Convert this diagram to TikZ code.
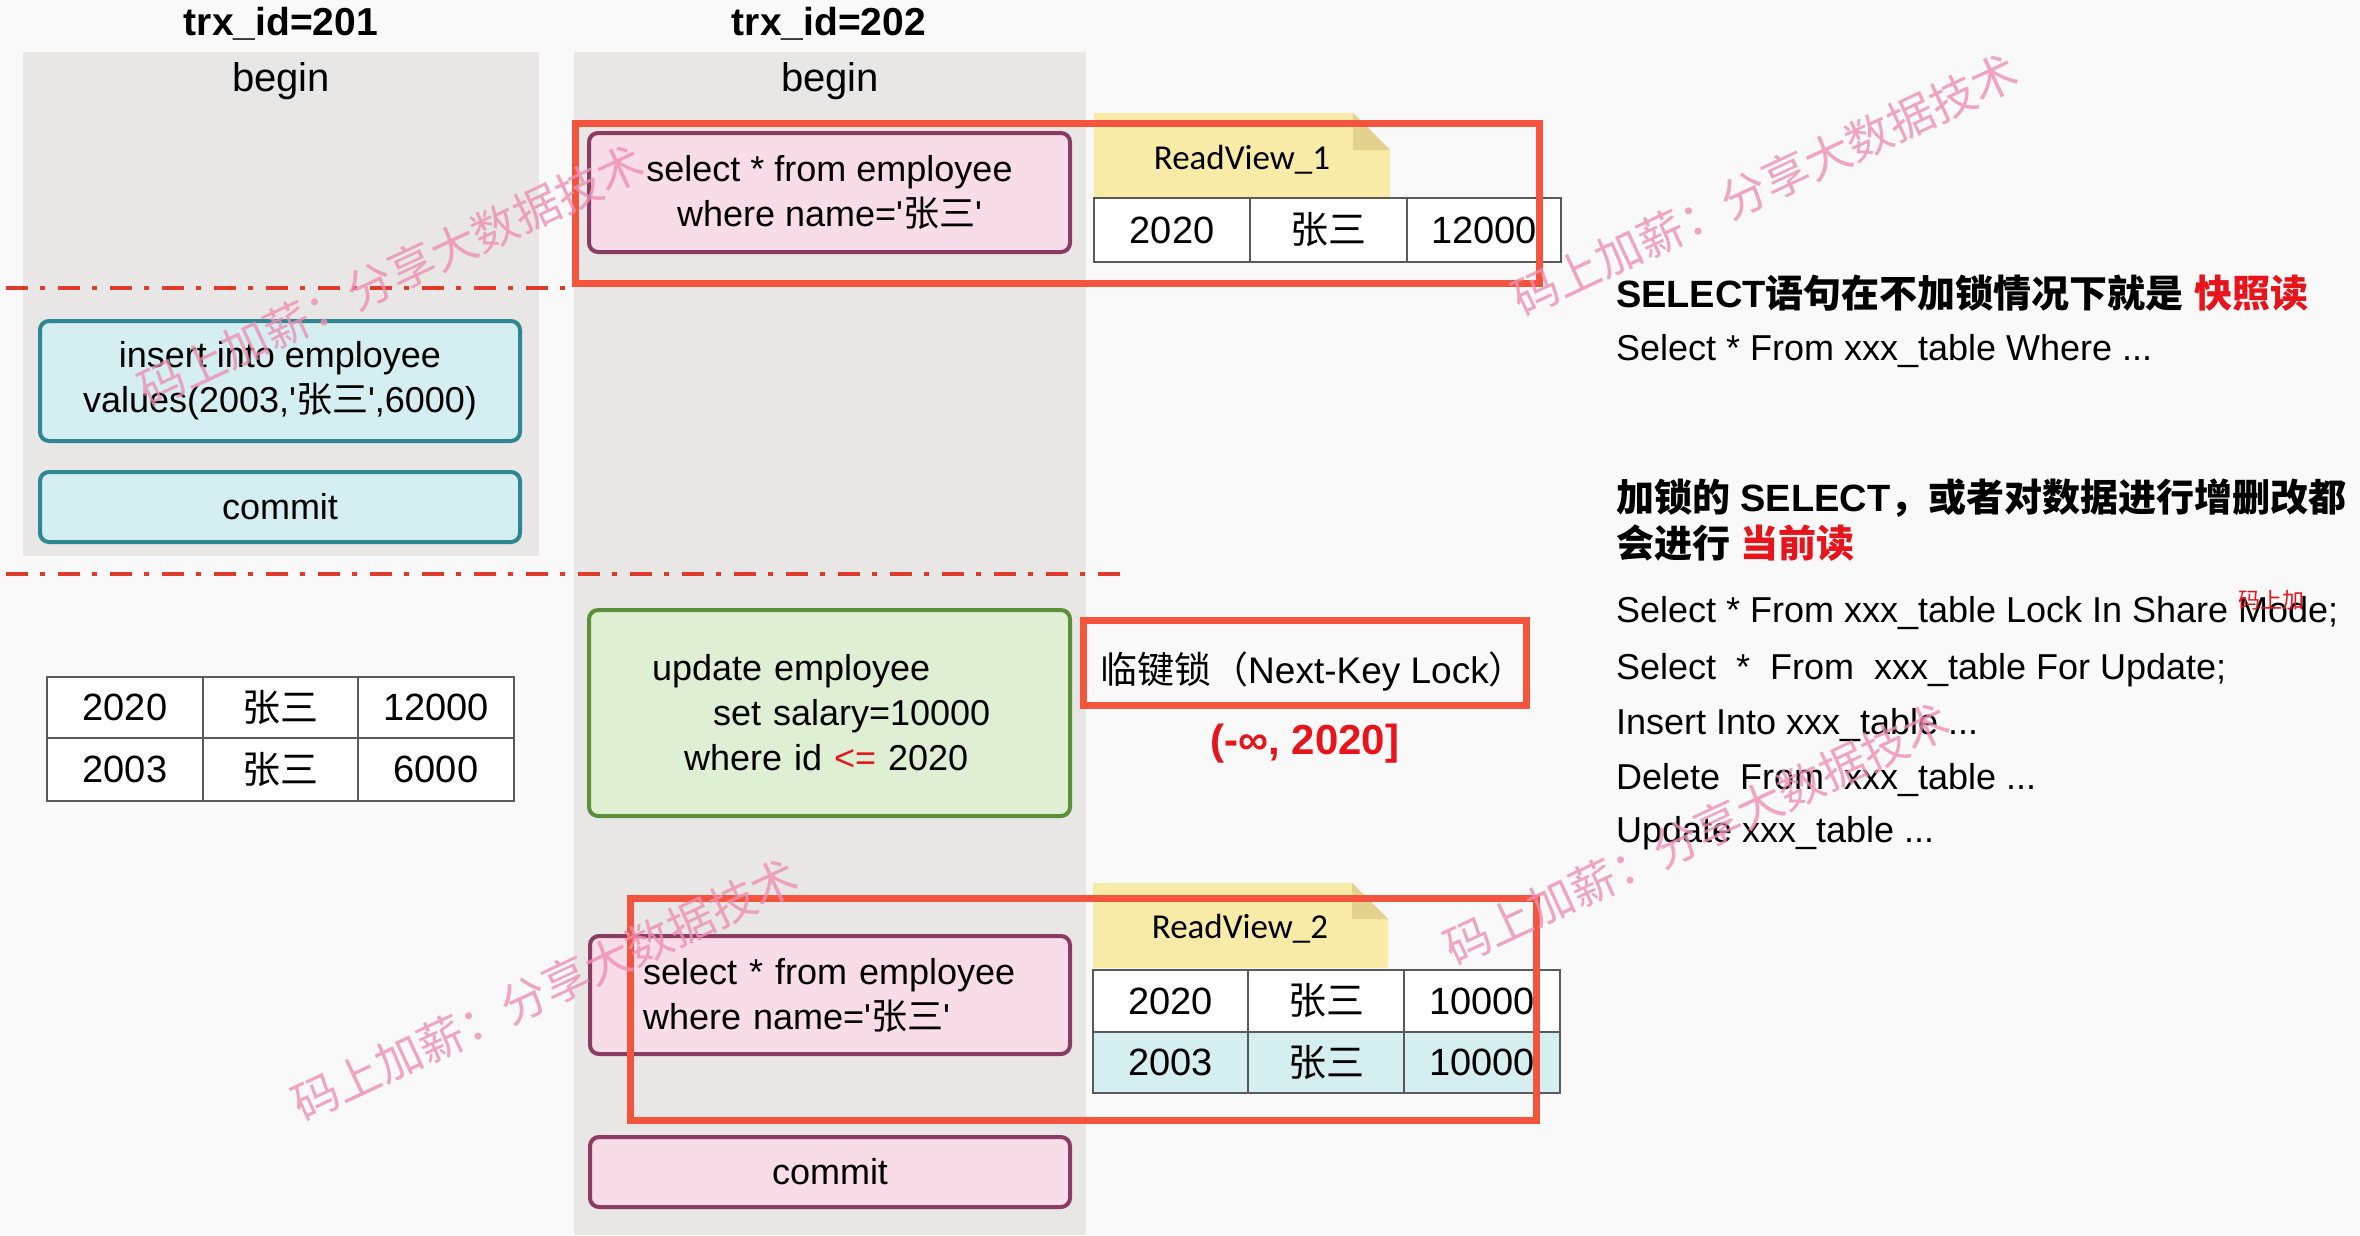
\documentclass[tikz,border=0pt]{standalone}
\usepackage{fontspec}
\setmainfont{Liberation Sans}
\newfontfamily\cjk{Noto Sans CJK SC}
\newfontfamily\rvfont{Carlito}
\newcommand\sq{\textquotesingle}
\newcommand\zs{{\cjk 张三}}
\definecolor{bg}{HTML}{F9F9F9}
\definecolor{colgray}{HTML}{E8E7E5}
\definecolor{pinkfill}{HTML}{F8DCE7}
\definecolor{pinkline}{HTML}{8A3C62}
\definecolor{cyanfill}{HTML}{D5EEF1}
\definecolor{cyanline}{HTML}{2E8790}
\definecolor{greenfill}{HTML}{DEEFD4}
\definecolor{greenline}{HTML}{5B8F3A}
\definecolor{boxred}{HTML}{F4533E}
\definecolor{dashred}{HTML}{DE3B2C}
\definecolor{tabyellow}{HTML}{F8EBA8}
\definecolor{tabfold}{HTML}{E3D18E}
\definecolor{txtred}{HTML}{E8141B}
\definecolor{wmpink}{HTML}{EE8FB2}
\definecolor{tline}{HTML}{5A5A5A}
\definecolor{rowcyan}{HTML}{D5EEF0}
\begin{document}
\begin{tikzpicture}[x=1pt,y=-1pt,
  every node/.style={inner sep=0pt, outer sep=0pt},
  body/.style={font=\fontsize{36}{45}\selectfont},
  title/.style={font=\bfseries\fontsize{39}{39}\selectfont, anchor=base},
  colbg/.style={fill=colgray},
  roundbox/.style={rounded corners=9pt, line width=4pt, body, align=center},
  pinkbox/.style={roundbox, draw=pinkline, fill=pinkfill},
  cyanbox/.style={roundbox, draw=cyanline, fill=cyanfill},
  greenbox/.style={roundbox, draw=greenline, fill=greenfill},
  cell/.style={draw=tline, line width=2pt, fill=white, font=\fontsize{38}{38}\selectfont},
  redframe/.style={draw=boxred, line width=7pt},
  dashdot/.style={draw=dashred, line width=4pt, dash pattern=on 22pt off 12pt on 5pt off 13pt},
  tab/.style={fill=tabyellow},
  fold/.style={fill=tabfold},
  rvtext/.style={font=\rvfont\fontsize{35}{35}\selectfont},
  rtext/.style={anchor=base west, font=\fontsize{36}{36}\selectfont},
  rhead/.style={anchor=base west, font=\bfseries\fontsize{38}{38}\selectfont},
  wm/.style={font=\cjk\fontsize{46}{46}\selectfont, text=wmpink, opacity=0.8, rotate=25}
]
\useasboundingbox (0,0) rectangle (2360,1235);
\fill[bg] (0,0) rectangle (2360,1235);

% column backgrounds
\fill[colbg] (23,52) rectangle (539,556);
\fill[colbg] (574,52) rectangle (1086,1235);

% titles
\node[title] (t201) at (281,35) {trx\_id=201};
\node[title] (t202) at (829,35) {trx\_id=202};
\node[font=\fontsize{40}{40}\selectfont, anchor=base] (b201) at (281,91) {begin};
\node[font=\fontsize{40}{40}\selectfont, anchor=base] (b202) at (830,91) {begin};

% dashed separators
\coordinate (d1a) at (6,288);
\coordinate (d1b) at (572,288);
\coordinate (d2a) at (6,574);
\coordinate (d2b) at (1130,574);
\draw[dashdot] (d1a) -- (d1b);
\draw[dashdot] (d2a) -- (d2b);

% trx 201 boxes
\node[cyanbox, minimum width=480, minimum height=120] (ins) at (280,381)
  {insert into employee\\values(2003,\sq\zs\sq,6000)};
\node[cyanbox, minimum width=480, minimum height=70] (com1) at (280,507) {commit};

% left table
\node[cell, minimum width=156, minimum height=61] (l11) at (125,707.5) {2020};
\node[cell, minimum width=155, minimum height=61] (l12) at (280.5,707.5) {\zs};
\node[cell, minimum width=156, minimum height=61] (l13) at (436,707.5) {12000};
\node[cell, minimum width=156, minimum height=63] (l21) at (125,769.5) {2003};
\node[cell, minimum width=155, minimum height=63] (l22) at (280.5,769.5) {\zs};
\node[cell, minimum width=156, minimum height=63] (l23) at (436,769.5) {6000};

% trx 202 boxes
\node[pinkbox, minimum width=481, minimum height=119] (sel1) at (829.5,192.5)
  {select * from employee\\where name=\sq\zs\sq};
\node[greenbox, minimum width=481, minimum height=206, text width=355, inner xsep=63, align=left] (upd) at (829.5,713)
  {update employee\\\hspace*{61pt}set salary=10000\\\hspace*{32pt}where id {\color{txtred}<=} 2020};
\node[pinkbox, minimum width=480, minimum height=118, text width=374, inner xsep=53, align=left] (sel2) at (830,995)
  {select * from employee\\where name=\sq\zs\sq};
\node[pinkbox, minimum width=480, minimum height=70] (com2) at (830,1172) {commit};

% ReadView_1
\fill[tab] (1094,113) -- (1353,113) -- (1390,150) -- (1390,198) -- (1094,198) -- cycle;
\fill[fold] (1353,113) -- (1390,150) -- (1353,150) -- cycle;
\node[rvtext] (rv1) at (1242,160) {ReadView\_1};
\node[cell, minimum width=156, minimum height=64] (a1) at (1172,230) {2020};
\node[cell, minimum width=157, minimum height=64] (a2) at (1328.5,230) {\zs};
\node[cell, minimum width=154, minimum height=64] (a3) at (1484,230) {12000};

% ReadView_2
\fill[tab] (1093,883) -- (1352,883) -- (1388,919) -- (1388,968) -- (1093,968) -- cycle;
\fill[fold] (1352,883) -- (1388,919) -- (1352,919) -- cycle;
\node[rvtext] (rv2) at (1240,929) {ReadView\_2};
\node[cell, minimum width=155, minimum height=62] (c11) at (1170.5,1001) {2020};
\node[cell, minimum width=156, minimum height=62] (c12) at (1326,1001) {\zs};
\node[cell, minimum width=156, minimum height=62] (c13) at (1482,1001) {10000};
\node[cell, fill=rowcyan, minimum width=155, minimum height=61] (c21) at (1170.5,1062.5) {2003};
\node[cell, fill=rowcyan, minimum width=156, minimum height=61] (c22) at (1326,1062.5) {\zs};
\node[cell, fill=rowcyan, minimum width=156, minimum height=61] (c23) at (1482,1062.5) {10000};

% next-key lock
\node[font=\fontsize{37}{37}\selectfont, anchor=base] (nkl) at (1313,683) {{\cjk 临键锁（}Next-Key Lock{\cjk ）}};
\node[anchor=base, font=\bfseries\fontsize{42}{42}\selectfont, text=txtred] (rng) at (1305,754) {(-∞, 2020]};

% red highlight frames
\draw[redframe] (575,123) rectangle (1539,283);
\draw[redframe] (630,898) rectangle (1536,1120);
\draw[redframe] (1083,620) rectangle (1526,705);

% right-hand text
\node[rhead] (h1) at (1616,307) {SELECT{\cjk 语句在不加锁情况下就是} {\cjk\color{txtred}快照读}};
\node[rtext] (s1) at (1616,360) {Select * From xxx\_table Where ...};
\node[rhead] (h2) at (1616,511) {{\cjk 加锁的} SELECT{\cjk ，或者对数据进行增删改都}};
\node[rhead] (h3) at (1616,557) {{\cjk 会进行} {\cjk\color{txtred}当前读}};
\node[rtext] (s2) at (1616,622) {Select * From xxx\_table Lock In Share Mode;};
\node[rtext] (s3) at (1616,679) {Select\ \ *\ \ From\ \ xxx\_table For Update;};
\node[rtext] (s4) at (1616,734) {Insert Into xxx\_table ...};
\node[rtext] (s5) at (1616,789) {Delete\ \ From\ \ xxx\_table ...};
\node[rtext] (s6) at (1616,842) {Update xxx\_table ...};

% watermarks
\node[wm] (w1) at (391,276) {码上加薪：分享大数据技术};
\node[wm] (w2) at (1765,185) {码上加薪：分享大数据技术};
\node[wm] (w3) at (545,990) {码上加薪：分享大数据技术};
\node[wm] (w4) at (1697,834) {码上加薪：分享大数据技术};
\node[anchor=base west, font=\cjk\fontsize{22}{22}\selectfont, text=txtred] (w5) at (2238,608) {码上加};
\end{tikzpicture}
\end{document}
